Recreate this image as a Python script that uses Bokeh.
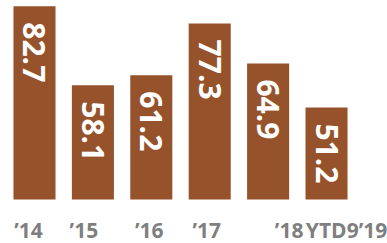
import math
from bokeh.plotting import figure
from bokeh.models import ColumnDataSource, FactorRange, Range1d
from bokeh.transform import dodge
from bokeh.core.properties import value
from bokeh.embed import file_html
from bokeh.resources import INLINE

categories = ["\u201914", "\u201915", "\u201916", "\u201917", "\u201918", "YTD9\u201919"]
values = [82.7, 58.1, 61.2, 77.3, 64.9, 51.2]
labels = ["82.7", "58.1", "61.2", "77.3", "64.9", "51.2"]

BASE = 22.5          # value at which the bars start (truncated baseline)
BAR = "#96532B"
GREY = "#7F7F7F"
LABEL_NUDGE = [-6, -9, -2, -3, 21, 20]   # px shift of category labels (styling)

src = ColumnDataSource(data=dict(cat=categories, val=values, lab=labels,
                                 base=[BASE] * len(values), nudge=LABEL_NUDGE))

xr = FactorRange(*categories, range_padding=0.313, range_padding_units="absolute")
p = figure(width=387, height=243, output_backend="svg", toolbar_location=None,
           x_range=xr, y_range=Range1d(8.8, 84.5),
           min_border_left=0, min_border_right=0, min_border_top=0, min_border_bottom=0)
p.outline_line_color = None
p.background_fill_color = None
p.border_fill_color = "white"
p.grid.visible = False
p.axis.visible = False

bx = dodge("cat", -0.231, range=xr)

p.vbar(x=bx, top="val", bottom="base", width=0.72, source=src,
       fill_color=BAR, line_color=None)

p.text(x=bx, y="val", text="lab", source=src, angle=-math.pi / 2,
       text_align="left", text_baseline="middle", y_offset=16,
       text_color="white", text_font=value("Open Sans"), text_font_style="bold",
       text_font_size="30px")

# category labels under the bars
p.text(x=bx, y=p.y_range.start, text="cat", source=src,
       x_offset="nudge",
       text_align="center", text_baseline="bottom",
       text_color=GREY, text_font=value("Open Sans"), text_font_style="bold",
       text_font_size="21px")

open("out.html", "w").write(file_html(p, INLINE))
